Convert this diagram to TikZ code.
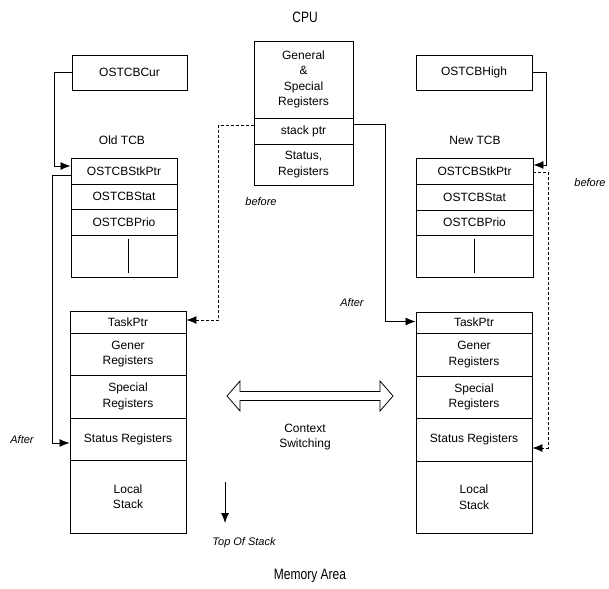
\documentclass[tikz,border=0pt]{standalone}
\usepackage{fontspec}
\setmainfont{Liberation Sans}
\newfontfamily\titlefont[FakeStretch=0.8]{Liberation Sans}
\usetikzlibrary{arrows.meta}

\tikzset{
  cell/.style={draw, rectangle, inner sep=0pt, align=center,
    font=\fontsize{12}{15.5}\selectfont},
  label/.style={align=center, font=\fontsize{12}{15}\selectfont},
  note/.style={font=\fontsize{11}{13}\selectfont\itshape},
  title/.style={font=\titlefont\fontsize{15}{17}\selectfont},
  link/.style={->, line width=0.8pt},
  ptr/.style={link, dash pattern=on 3pt off 2pt},
}

\begin{document}
\begin{tikzpicture}[x=1pt, y=-1pt, >={Latex[length=10pt,width=8pt]}, line width=0.9pt]
\useasboundingbox (0,0) rectangle (609,588);

% cpu registers
\node[title] (cpu) at (305,17) {CPU};
\node[cell, minimum width=99pt, minimum height=77pt] (cpugen) at (303.5,79.5) {General\\\&\\Special\\Registers};
\node[cell, minimum width=99pt, minimum height=26pt] (cpusp) at (303.5,131) {stack ptr};
\node[cell, minimum width=99pt, minimum height=41pt] (cpustat) at (303.5,164.5) {Status,\\Registers};

% old task
\node[cell, minimum width=115pt, minimum height=35pt] (cur) at (129.5,72.5) {OSTCBCur};
\node[label] (oldtcb) at (122,140) {Old TCB};
\node[cell, minimum width=106pt, minimum height=26pt] (ostk) at (124,171) {OSTCBStkPtr};
\node[cell, minimum width=106pt, minimum height=25pt] (ostat) at (124,196.5) {OSTCBStat};
\node[cell, minimum width=106pt, minimum height=26pt] (oprio) at (124,222) {OSTCBPrio};
\node[cell, minimum width=106pt, minimum height=42pt] (oslot) at (124,256) {};
\draw ([xshift=4pt,yshift=-4pt]oslot.north) -- ([xshift=4pt,yshift=4pt]oslot.south);

\node[cell, minimum width=116pt, minimum height=22pt] (lptr) at (128,322) {TaskPtr};
\node[cell, minimum width=116pt, minimum height=42pt] (lgen) at (128,354) {Gener\\Registers};
\node[cell, minimum width=116pt, minimum height=43pt] (lspec) at (128,396.5) {Special\\Registers};
\node[cell, minimum width=116pt, minimum height=42pt] (lstat) at (128,439) {Status Registers};
\node[cell, minimum width=116pt, minimum height=73pt] (llocal) at (128,496.5) {Local\\Stack};

% new task
\node[cell, minimum width=116pt, minimum height=35pt] (high) at (474,72.5) {OSTCBHigh};
\node[label] (newtcb) at (475,140) {New TCB};
\node[cell, minimum width=117pt, minimum height=26pt] (nstk) at (474.5,171) {OSTCBStkPtr};
\node[cell, minimum width=117pt, minimum height=26pt] (nstat) at (474.5,197) {OSTCBStat};
\node[cell, minimum width=117pt, minimum height=25pt] (nprio) at (474.5,222.5) {OSTCBPrio};
\node[cell, minimum width=117pt, minimum height=42pt] (nslot) at (474.5,256) {};
\draw ([yshift=-4pt]nslot.north) -- ([yshift=4pt]nslot.south);

\node[cell, minimum width=116pt, minimum height=21pt] (rptr) at (474,322.5) {TaskPtr};
\node[cell, minimum width=116pt, minimum height=43pt] (rgen) at (474,354.5) {Gener\\Registers};
\node[cell, minimum width=116pt, minimum height=42pt] (rspec) at (474,397) {Special\\Registers};
\node[cell, minimum width=116pt, minimum height=43pt] (rstat) at (474,439.5) {Status Registers};
\node[cell, minimum width=116pt, minimum height=72pt] (rlocal) at (474,497) {Local\\Stack};

% pointers
\draw[link] (cur.west) -- ++(-17,0) |- ([yshift=5pt]ostk.west);
\draw[link] ([yshift=-4pt]ostk.west) -- ++(-18,0) |- ([yshift=-4pt]lstat.west);
\draw[ptr] ([yshift=6pt]cpusp.west) -- ++(-35,0) |- ([yshift=2pt]lptr.east);
\draw[link] ([yshift=7pt]cpusp.east) -- ++(32,0) |- ([yshift=1pt]rptr.west);
\draw[link] (high.east) -- ++(14,0) |- ([yshift=6pt]nstk.east);
\draw[ptr] ([yshift=-1pt]nstk.east) -- ++(15,0) |- ([yshift=-8.5pt]rstat.east);

\node[note] (lafter) at (22,440) {After};
\node[note] (rafter) at (352,303) {After};
\node[note] (lbefore) at (261,202) {before};
\node[note] (rbefore) at (590,183) {before};

% context switch
\draw[line width=0.8pt] (227,396) -- (240,381) -- (240,391.5) -- (380,391.5) -- (380,381)
  -- (393,396) -- (380,411) -- (380,400.5) -- (240,400.5) -- (240,411) -- cycle;
\node[label] (ctx) at (305,437) {Context\\Switching};

% stack growth
\coordinate (grow) at (225,482);
\draw[link] (grow) -- ++(0,41);
\node[note] (tos) at (244,543) {Top Of Stack};

\node[title] (mem) at (310,576) {Memory Area};
\end{tikzpicture}
\end{document}
